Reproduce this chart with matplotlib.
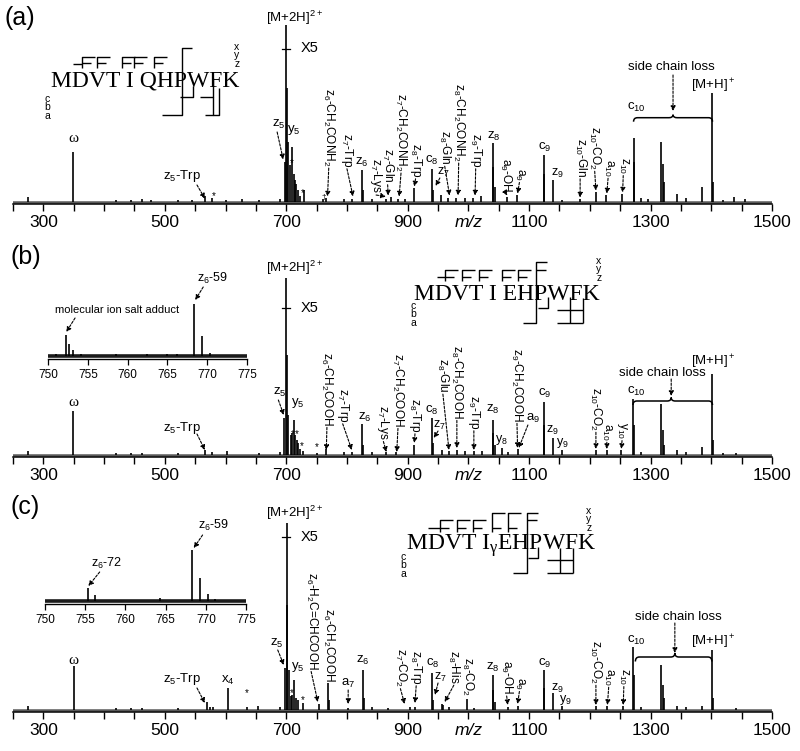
import matplotlib
matplotlib.use('Agg')
import matplotlib.pyplot as plt
from matplotlib.path import Path
from matplotlib.patches import PathPatch

plt.rcParams['font.family'] = ['Liberation Sans', 'DejaVu Sans']
plt.rcParams['mathtext.default'] = 'regular'

W, H = 800, 751

# ---------------- data: peaks (m/z, relative intensity) ----------------
mz_a = [274, 349, 420, 445, 462, 478, 522, 545, 567, 578, 601, 627, 655, 690,
        698, 700, 701, 703, 707, 710, 712, 714, 716, 719, 723, 730, 760, 766,
        795, 808, 824, 826, 841, 865, 872, 884, 895, 910, 940, 942, 955, 967,
        980, 994, 1007, 1020, 1040, 1041, 1043, 1064, 1080, 1124, 1125, 1139,
        1154, 1183, 1210, 1227, 1253, 1272, 1273, 1285, 1295, 1318, 1320, 1322,
        1343, 1358, 1384, 1402, 1403, 1420, 1437, 1455]
int_a = [5, 50, 2, 2, 3, 2, 2, 2, 6, 4, 2, 3, 2, 3,
         40, 177, 114, 60, 37, 55, 28, 22, 18, 12, 6, 12, 3, 4,
         3, 3, 32, 12, 3, 3, 5, 3, 3, 14, 33, 12, 7, 4,
         4, 4, 4, 6, 59, 35, 15, 5, 7, 47, 28, 22,
         2, 3, 10, 7, 8, 64, 40, 4, 3, 60, 38, 20,
         8, 4, 15, 109, 20, 2, 5, 3]

mz_b = [275, 349, 420, 445, 462, 522, 566, 577, 602, 655, 690, 696, 700, 701,
        703, 708, 710, 712, 715, 717, 719, 722, 728, 751, 765, 795, 808, 824,
        826, 841, 865, 880, 910, 940, 942, 956, 968, 981, 995, 1009, 1022, 1040,
        1041, 1043, 1055, 1065, 1081, 1124, 1125, 1139, 1154, 1210, 1228, 1252,
        1271, 1272, 1285, 1318, 1320, 1322, 1343, 1358, 1384, 1402, 1403, 1420, 1440]
int_b = [4, 44, 2, 2, 2, 2, 5, 3, 4, 2, 3, 37, 177, 100,
         40, 20, 22, 35, 20, 15, 12, 6, 4, 2, 6, 3, 3, 31,
         10, 3, 3, 3, 10, 37, 12, 5, 4, 5, 4, 4, 4, 35,
         22, 10, 7, 3, 6, 53, 30, 17, 5, 5, 5, 5,
         56, 30, 3, 51, 25, 10, 5, 3, 8, 81, 15, 2, 2]

mz_c = [275, 350, 420, 445, 462, 522, 569, 575, 580, 604, 635, 654, 690, 698,
        701, 702, 704, 708, 710, 713, 716, 719, 728, 754, 769, 770, 801, 826,
        828, 841, 868, 904, 912, 940, 942, 956, 958, 968, 997, 1010, 1040, 1041,
        1043, 1065, 1081, 1124, 1125, 1139, 1154, 1210, 1228, 1254, 1271, 1272,
        1285, 1318, 1320, 1322, 1343, 1358, 1384, 1402, 1403, 1440]
int_c = [4, 44, 2, 2, 2, 2, 8, 3, 3, 22, 3, 4, 3, 42,
         187, 105, 40, 14, 15, 30, 12, 10, 7, 6, 27, 10, 2, 40,
         12, 3, 2, 3, 3, 37, 10, 6, 5, 3, 11, 2, 35, 20,
         8, 3, 4, 40, 22, 17, 4, 4, 4, 4, 63, 35,
         3, 45, 25, 12, 4, 3, 4, 60, 12, 2]

inset_mz_b = [751.0, 752.2, 752.7, 753.2, 754.1, 758.6, 762.4, 764.9, 766.2, 768.3, 769.3, 770.3]
inset_int_b = [2, 21, 12, 6, 2, 2, 2, 2, 2, 52, 20, 3]
inset_mz_c = [755.3, 756.2, 764.3, 768.3, 769.3, 770.3, 771.2]
inset_int_c = [13, 6, 3, 51, 23, 7, 2]

xticks_major = [300, 500, 700, 900, 1100, 1300, 1500]
xtick_labels = ['300', '500', '700', '900', '1100', '1300', '1500']
xticks_minor = list(range(250, 1501, 50))
inset_ticks = [750, 755, 760, 765, 770, 775]
inset_tick_labels = ['750', '755', '760', '765', '770', '775']

sequences = ['MDVT I QHPWFK', 'MDVT I EHPWFK', 'MDVT I$_{γ}$EHPWFK']
panel_tags = ['(a)', '(b)', '(c)']

# ---------------- annotations ----------------
hl_a = [('[M+2H]$^{2+}$', 714, 184, 9.5), ('z$_5$-Trp', 528, 25.5, 9.5),
        ('z$_5$', 688, 77, 9.5), ('y$_5$', 713, 71.5, 9.5), ('z$_6$', 825, 39.5, 9.5),
        ('c$_8$', 940, 41.5, 9.5), ('z$_7$', 958, 29.5, 9), ('z$_8$', 1042, 65.5, 9.5),
        ('c$_9$', 1126, 54.5, 9.5), ('z$_9$', 1146, 28.5, 9), ('c$_{10}$', 1276, 94.5, 9.5),
        ('side chain loss', 1334, 134.5, 9.5), ('[M+H]$^+$', 1403, 116, 9.5),
        ('*', 709, 38.5, 7), ('*', 728, 8.5, 7), ('*', 580, 5, 7), ('†', 761, 4, 6)]
ar_a = [(553, 16.5, 566, 3), (685, 69.5, 695, 42), (953, 23.5, 946, 15.5),
        (1337, 126.5, 1337, 90.5)]
vl_a = [('z$_6$-CH$_2$CONH$_2$', 770, 113.5, (768, 5)), ('z$_7$-Trp', 800, 68.5, (810, 5)),
        ('z$_7$-Lys', 848, 43, (864, 5)), ('z$_7$-Gln', 867, 53, (868, 6)),
        ('z$_7$-CH$_2$CONH$_2$', 889, 108.5, (886, 5)), ('z$_8$-Trp', 913, 58.5, (911, 15)),
        ('z$_8$-Gln', 961, 71.5, (969, 6)), ('z$_8$-CH$_2$CONH$_2$', 984, 118.5, (983, 6)),
        ('z$_9$-Trp', 1012, 68.5, (1011, 6)), ('a$_9$-OH', 1062, 44, (1064, 6)),
        ('a$_9$', 1084, 33.5, (1081, 8)), ('z$_{10}$-Gln', 1184, 63.5, (1184, 4)),
        ('z$_{10}$-CO$_2$', 1208, 75.5, (1210, 11)), ('a$_{10}$', 1230, 42.5, (1228, 8)),
        ('z$_{10}$', 1255, 44.5, (1254, 9))]

hl_b = [('[M+2H]$^{2+}$', 714, 187, 9.5), ('z$_5$-Trp', 529, 27, 9.5),
        ('z$_5$', 689, 63, 9.5), ('y$_5$', 719, 52, 9.5),
        ('*', 711, 21, 7), ('*', 718, 21, 7), ('*', 726, 9, 7), ('*', 751, 8, 7),
        ('z$_6$', 830, 38, 9.5), ('c$_8$', 940, 45, 9.5), ('z$_7$', 953, 30, 9),
        ('z$_8$', 1040, 46, 9.5), ('y$_8$', 1055, 15, 9), ('a$_9$', 1106, 37, 9.5),
        ('c$_9$', 1126, 62, 9.5), ('z$_9$', 1139, 25, 9), ('y$_9$', 1154, 12, 9),
        ('c$_{10}$', 1276, 64, 9.5), ('side chain loss', 1320, 82, 9.5),
        ('[M+H]$^+$', 1403, 93, 9.5)]
ar_b = [(553, 21, 566, 5), (687, 55, 696, 40), (950, 24, 943, 17), (1098, 30, 1083, 7),
        (1334, 76, 1334, 59)]
vl_b = [('z$_6$-CH$_2$COOH', 767, 103, (766, 5)), ('z$_7$-Trp', 793, 67, (808, 5)),
        ('z$_7$-Lys', 860, 50, (865, 3)), ('z$_7$-CH$_2$COOH', 884, 102, (882, 3)),
        ('z$_8$-Trp', 912, 57, (911, 12)), ('z$_8$-Glu', 958, 97, (968, 5)),
        ('z$_8$-CH$_2$COOH', 981, 110, (981, 7)), ('z$_9$-Trp', 1009, 60, (1009, 5)),
        ('z$_9$-CH$_2$COOH', 1080, 107, (1081, 7)), ('z$_{10}$-CO$_2$', 1210, 68, (1210, 6)),
        ('a$_{10}$', 1228, 32, (1228, 6)), ('y$_{10}$', 1253, 33, (1252, 6))]

hl_c = [('[M+2H]$^{2+}$', 714, 197, 9.5), ('z$_5$-Trp', 529, 31, 9.5), ('x$_4$', 604, 30, 9.5),
        ('*', 635, 17, 7), ('*', 709, 17, 7), ('*', 728, 10, 7),
        ('z$_5$', 684, 67, 9.5), ('y$_5$', 719, 43, 9.5), ('a$_7$', 802, 27, 9.5),
        ('z$_6$', 826, 50, 9.5), ('c$_8$', 942, 47, 9.5), ('z$_7$', 954, 33, 9),
        ('z$_8$', 1040, 43, 9.5), ('c$_9$', 1126, 47, 9.5), ('z$_9$', 1146, 22, 9),
        ('y$_9$', 1159, 10, 9), ('c$_{10}$', 1276, 70, 9.5),
        ('side chain loss', 1345, 93, 9.5), ('[M+H]$^+$', 1403, 68, 9.5)]
ar_c = [(553, 22, 566, 7), (686, 60, 696, 45), (802, 20, 802, 6), (950, 27, 945, 15),
        (1340, 87, 1340, 57)]
vl_c = [('z$_6$-H$_2$C=CHCOOH', 741, 138, (752, 8)), ('z$_6$-CH$_2$COOH', 769, 102, None),
        ('z$_7$-CO$_2$', 888, 62, (895, 6)), ('z$_8$-Trp', 914, 60, (912, 7)),
        ('z$_8$-His', 976, 60, (961, 8)), ('z$_8$-CO$_2$', 999, 53, None),
        ('a$_9$-OH', 1063, 50, (1065, 5)), ('a$_9$', 1084, 33, (1081, 6)),
        ('z$_{10}$-CO$_2$', 1210, 70, (1210, 5)), ('a$_{10}$', 1231, 42, (1229, 5)),
        ('z$_{10}$', 1256, 42, (1255, 5))]

# (omega, X5 y, brace: x1, x2, line, end, cusp, mid)
extras = [
    dict(omega=(349, 63.5), x5=153, brace=(1272, 1402, 83.8, 79.8, 86.8, 1337)),
    dict(omega=(349, 52), x5=147, brace=(1271, 1402, 54, 50, 57.5, 1334)),
    dict(omega=(350, 50), x5=173, brace=(1275, 1401, 53, 48.5, 57, 1340)),
]
spines_px = [203.5, 457, 712]

# ---------------- figure ----------------
fig = plt.figure(figsize=(W / 100, H / 100), dpi=100)
AX_L, AX_R = 13, 772

def fx(x):
    return x / W

def fy(y):
    return 1 - y / H

def arrow(ax, x0, y0, x1, y1, ms=7):
    ax.annotate('', xy=(x1, y1), xytext=(x0, y0),
                arrowprops=dict(arrowstyle='-|>', linestyle=(0, (2.2, 1.4)), lw=0.8,
                                color='k', shrinkA=0, shrinkB=0, mutation_scale=ms),
                annotation_clip=False)

axes = []
pending = []
panels = [(mz_a, int_a, hl_a, ar_a, vl_a), (mz_b, int_b, hl_b, ar_b, vl_b),
          (mz_c, int_c, hl_c, ar_c, vl_c)]
for i, (mz, inten, hl, ar, vl) in enumerate(panels):
    sp = spines_px[i]
    ax = fig.add_axes([fx(AX_L), fy(sp), fx(AX_R - AX_L), 190 / H])
    ax.patch.set_alpha(0)
    ax.set_xlim(250, 1500)
    ax.set_ylim(-2, 188)
    ax.axhline(0, color='0.35', lw=1.8, zorder=1)
    ax.vlines(mz, 0, inten, color='k', lw=1.2, zorder=2)
    for s in ['top', 'left', 'right']:
        ax.spines[s].set_visible(False)
    ax.spines['bottom'].set_linewidth(1.1)
    ax.set_yticks([])
    ax.set_xticks(xticks_major)
    ax.set_xticklabels(xtick_labels)
    ax.set_xticks(xticks_minor, minor=True)
    ax.tick_params(axis='x', which='both', direction='out', length=5, width=1,
                   labelsize=12.5, pad=3)
    ax.annotate('m/z', xy=(1000, 0), xycoords=('data', 'axes fraction'),
                xytext=(0, -8), textcoords='offset points', ha='center', va='top',
                fontsize=12.5, style='italic')
    ex = extras[i]
    ax.text(ex['omega'][0], ex['omega'][1], 'ω', family='Liberation Serif',
            fontsize=11, ha='center', va='center')
    ax.plot([693, 706], [ex['x5'], ex['x5']], color='k', lw=0.9)
    ax.text(723, ex['x5'], 'X5', fontsize=10.5, ha='left', va='center')
    for (t, x, y, fs) in hl:
        ax.text(x, y, t, fontsize=fs, ha='center', va='center')
    for (x0, y0, x1, y1) in ar:
        arrow(ax, x0, y0, x1, y1)
    for (t, x, ytop, tgt) in vl:
        txt = ax.text(x, ytop, t, fontsize=8.6, rotation=-90, ha='center', va='top')
        if tgt is not None:
            pending.append((ax, txt, x, tgt))
    x1, x2, yl, ye, yc, xm = ex['brace']
    r = 6.5
    verts = [(x1, ye), (x1, yl), (x1 + r, yl), (xm - r, yl), (xm, yl), (xm, yc),
             (xm, yl), (xm + r, yl), (x2 - r, yl), (x2, yl), (x2, ye)]
    codes = [Path.MOVETO, Path.CURVE3, Path.CURVE3, Path.LINETO, Path.CURVE3, Path.CURVE3,
             Path.CURVE3, Path.CURVE3, Path.LINETO, Path.CURVE3, Path.CURVE3]
    ax.add_patch(PathPatch(Path(verts, codes), fill=False, lw=1.1, color='k'))
    axes.append(ax)

# ---------------- insets ----------------
inset_specs = [
    (1, 48, 247, 359, inset_mz_b, inset_int_b,
     [('molecular ion salt adduct', 758.7, 46, 8), ('z$_6$-59', 770.7, 78, 9)],
     [(753.4, 38, 752.3, 24), (769.5, 69, 768.5, 56)]),
    (2, 45, 246, 604, inset_mz_c, inset_int_c,
     [('z$_6$-72', 757.7, 38, 9), ('z$_6$-59', 770.9, 76, 9)],
     [(756.8, 29, 755.4, 15), (769.6, 66, 768.5, 53)]),
]
for (pi, l, r_, sp, imz, iint, labs, arrs) in inset_specs:
    ia = fig.add_axes([fx(l), fy(sp), fx(r_ - l), 83 / H])
    ia.patch.set_alpha(0)
    ia.set_xlim(750, 775)
    ia.set_ylim(-3, 80)
    ia.axhline(0, color='0.1', lw=2.6, zorder=1)
    ia.vlines(imz, 0, iint, color='k', lw=1.2, zorder=2)
    for s in ['top', 'left', 'right']:
        ia.spines[s].set_visible(False)
    ia.spines['bottom'].set_linewidth(1.0)
    ia.set_yticks([])
    ia.set_xticks(inset_ticks)
    ia.set_xticklabels(inset_tick_labels)
    ia.tick_params(axis='x', direction='out', length=4.5, width=0.9, labelsize=8.5, pad=2.5)
    for (t, x, y, fs) in labs:
        ia.text(x, y, t, fontsize=fs, ha='center', va='center')
    for (x0, y0, x1, y1) in arrs:
        arrow(ia, x0, y0, x1, y1)

# ---------------- overlay: tags, sequences, fragment marks ----------------
ov = fig.add_axes([0, 0, 1, 1])
ov.set_xlim(0, W)
ov.set_ylim(H, 0)
ov.axis('off')
ov.patch.set_alpha(0)

tag_pos = [(5, 18), (10, 257), (10, 507)]
for t, (x, y) in zip(panel_tags, tag_pos):
    ov.text(x, y, t, fontsize=18, ha='left', va='center')

seq_pos = [(51, 87), (414, 300), (406, 550)]
for s, (x, y) in zip(sequences, seq_pos):
    ov.text(x, y, s, family='Liberation Serif', fontsize=17, ha='left', va='baseline')

cba_pos = [(47, 94), (413, 301), (403, 552)]
xyz_pos = [(237, 42), (599, 256), (589, 506)]
for (x, y) in cba_pos:
    ov.text(x, y, 'c\nb\na', fontsize=7.5, ha='center', va='top', linespacing=0.8)
for (x, y) in xyz_pos:
    ov.text(x, y, 'x\ny\nz', fontsize=7.5, ha='center', va='top', linespacing=0.8)

def f_mark(x, ytop, ymid, ybot, wtop, wmid):
    return [[(x, ybot), (x, ytop), (x + wtop, ytop)], [(x, ymid), (x + wmid, ymid)]]

marks = []
# panel (a)
marks += [[(73, 64), (82, 64)]]
for x in [82, 97, 122, 134, 154]:
    marks += f_mark(x, 57, 63, 68, 13, 9)
marks += [[(162, 115), (182, 115), (182, 48), (192, 48)],
          [(180, 97), (193, 97), (193, 86)],
          [(200, 97), (213, 97), (213, 78)],
          [(205, 115), (213, 115), (213, 97)],
          [(213, 115), (219, 115), (219, 88)]]
# panel (b)
marks += [[(437, 277), (445, 277)]]
for x in [445, 462, 479, 502, 518]:
    marks += f_mark(x, 270, 277, 281, 13, 9)
marks += [[(523, 323), (536, 323), (536, 262), (547, 262)], [(536, 270), (546, 270)],
          [(538, 308), (548, 308), (548, 297)],
          [(557, 310), (583, 310)], [(570, 297), (570, 323)], [(583, 298), (583, 323)],
          [(557, 323), (583, 323)]]
# panel (c)
marks += [[(428, 528), (440, 528)]]
for x, yt in [(440, 520), (457, 520), (473, 520), (492, 513), (508, 513)]:
    marks += f_mark(x, yt, 528, 532, 13, 9)
marks += [[(513, 573), (527, 573), (527, 513), (538, 513)], [(527, 520), (537, 520)],
          [(528, 558), (538, 558), (538, 547)],
          [(547, 560), (573, 560)], [(560, 548), (560, 573)], [(573, 548), (573, 573)],
          [(547, 573), (573, 573)]]
for m in marks:
    xs = [p[0] for p in m]
    ys = [p[1] for p in m]
    ov.plot(xs, ys, color='k', lw=1.0, solid_capstyle='butt')

# ---------------- arrows from rotated labels ----------------
fig.canvas.draw()
renderer = fig.canvas.get_renderer()
for (ax, txt, x, tgt) in pending:
    bb = txt.get_window_extent(renderer)
    ybot = ax.transData.inverted().transform((0, bb.y0))[1]
    arrow(ax, x, ybot - 1.5, tgt[0], tgt[1])

fig.savefig('out.png', dpi=100)
